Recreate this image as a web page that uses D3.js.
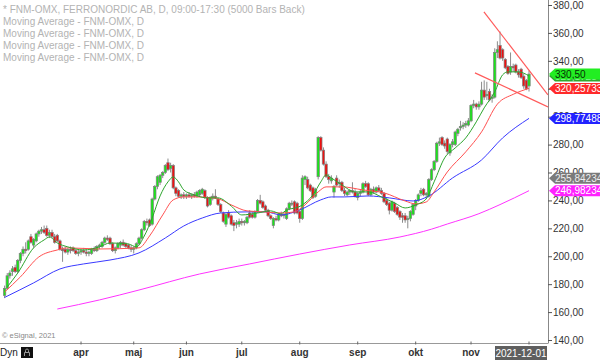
<!DOCTYPE html>
<html><head><meta charset="utf-8">
<script src="https://cdn.jsdelivr.net/npm/d3@7"></script>
<style>body{margin:0;background:#fff}svg{display:block;font-family:Arial,"Liberation Sans",sans-serif}</style>
</head><body><svg id="c" width="600" height="360"></svg>
<script>
// ---------- DATA ----------
const startDate = "2021-02-19";
const endDate = "2021-12-01";
const holidays = ["2021-04-02","2021-04-05","2021-05-13","2021-06-25"];

const open = [
172,177,186,189,192,189,197,202,205,205,214,208,211,216,218,219,220,215,217,214,215,211,205,205,203,205,206,204,202,
203,204,203,202,202,205,204,207,207,210,213,213,209,204,206,208,210,209,208,206,
205,206,209,213,219,225,226,223,241,250,253,258,260,267,263,265,249,247,243,244,
243,244,243,244,243,244,245,247,242,237,242,243,241,237,231,223,231,229,224,223,223,
225,224,224,231,230,228,232,240,239,236,233,229,222,227,226,230,229,227,234,238,239,238,
232,227,255,255,251,249,243,257,285,276,266,257,254,246,256,252,253,247,244,246,247,246,
242,245,246,252,252,244,248,246,249,247,245,240,238,233,238,235,232,229,229,227,227,230,
236,240,245,248,244,243,255,262,268,281,285,281,284,274,280,280,288,292,293,294,294,
297,308,309,307,309,319,315,318,313,314,346,351,348,341,336,332,336,337,332,334,329,326,322];
const high = [
179,188,190,193,194,198,203,207,210,212,216,213,217,219,221,222,222,219,219,216,216,212,207,207,206,207,207,205,205,
205,206,205,204,206,207,208,209,211,214,215,214,210,207,210,211,212,210,209,208,
207,210,214,220,226,227,227,242,251,258,259,261,266,270,267,266,250,248,245,246,
245,246,245,246,247,248,249,248,243,243,245,248,242,238,232,231,233,230,226,226,227,
227,226,229,233,232,233,241,244,240,237,234,230,228,229,231,232,231,235,239,240,240,239,
233,258,258,257,252,250,249,286,286,278,268,259,258,251,258,255,254,249,247,248,253,248,
246,248,253,254,253,249,250,250,251,249,246,242,239,240,239,236,233,231,231,229,233,238,
241,245,249,249,246,256,263,269,282,285,286,283,285,281,284,290,292,297,296,297,299,
309,312,310,311,325,326,325,320,316,349,354,361,349,342,337,346,338,338,334,335,331,327,333];
const low = [
170,176,184,186,188,188,195,200,202,204,209,206,210,214,216,216,214,213,213,209,210,204,196,202,201,202,203,201,200,
201,202,200,200,201,203,203,205,206,209,211,208,203,202,205,206,207,206,205,203,
202,205,208,212,218,222,221,222,240,248,251,256,259,261,260,248,243,242,241,241,
241,242,241,242,242,243,244,241,235,236,240,241,236,231,224,221,227,222,218,220,221,
222,222,223,227,227,227,231,237,234,232,228,226,220,225,225,228,227,226,233,236,230,230,
224,226,251,248,246,241,242,255,275,265,256,252,252,242,250,249,246,243,243,244,245,242,
240,243,245,249,243,243,245,245,246,244,238,236,230,232,231,229,226,224,224,220,225,229,
233,239,243,243,241,242,254,261,267,279,279,277,273,272,278,279,286,290,291,292,293,
296,306,305,305,308,312,312,311,310,313,342,341,340,334,330,330,332,331,328,327,320,319,318];
const close = [
177,186,188,191,189,197,202,205,204,211,210,212,216,218,219,217,215,217,214,210,211,205,204,203,205,204,204,202,203,
204,203,202,203,205,204,207,208,210,213,212,209,204,206,209,210,208,207,206,205,
206,209,213,219,225,224,222,241,250,257,258,260,265,262,265,249,245,243,244,243,
244,243,244,243,246,247,248,242,236,242,243,242,237,232,225,230,228,223,222,224,225,
224,225,228,228,228,232,240,238,235,233,229,227,227,226,230,229,230,234,238,238,231,231,
227,256,257,249,247,242,248,285,276,266,257,255,256,250,251,253,247,245,246,247,246,243,
245,246,252,250,244,248,246,249,247,245,239,237,233,239,232,230,228,228,226,227,232,237,
240,244,247,244,245,255,262,268,281,282,280,279,275,280,282,289,291,293,294,295,297,
308,309,307,309,319,314,316,312,314,346,348,342,342,335,331,336,335,332,330,328,322,320,330.5];

// moving averages: [bar number, value]
const maGreen = [[1,178.0],[5,188.0],[11,206.0],[15,211.7],[17,213.8],[20,209.5],[24,206.7],[30,204.5],[36,206.7],[40,209.5],[47,208.8],[50,206.7],[53,214.5],[56,227.4],[59,243.2],[62,253.3],[64,256.8],[66,253.3],[68,247.5],[72,244.0],[77,241.8],[81,241.8],[86,236.0],[90,229.6],[96,231.0],[101,232.5],[105,230.3],[106,231.8],[113,236.8],[117,243.9],[120,253.3],[122,258.3],[124,256.1],[128,251.1],[133,246.1],[138,246.1],[143,242.5],[148,238.2],[152,234.6],[156,236.8],[160,241.1],[163,253.3],[167,270.5],[171,277.6],[175,284.8],[179,296.3],[182,306.3],[186,317.8],[189,330.0],[191,332.1],[195,332.1],[199,329.17]];
const maRed = [[0,174.4],[6,185.2],[13,199.5],[20,204.5],[24,206.0],[36,205.2],[51,206.0],[55,214.5],[60,229.6],[64,240.4],[68,242.5],[73,242.5],[81,241.1],[86,236.8],[92,232.5],[98,231.8],[105,231.0],[110,231.8],[114,236.8],[119,246.1],[122,249.7],[128,249.7],[136,247.5],[144,245.4],[152,239.6],[156,237.5],[160,238.9],[163,246.1],[168,260.4],[175,274.8],[181,289.1],[187,309.0],[193,316.0],[199,320.26]];
const maBlue = [[0,170.5],[11,180.9],[21,190.9],[30,194.5],[40,197.3],[51,202.4],[61,213.1],[68,221.7],[75,227.4],[82,231.0],[92,231.8],[99,231.8],[105,229.6],[112,233.2],[120,240.4],[124,242.5],[129,242.5],[138,243.2],[146,241.8],[155,239.6],[161,243.2],[170,256.1],[181,269.0],[189,284.8],[199,298.77]];
const maMagenta = [[20,162.2],[36,168.7],[51,175.8],[74,187.3],[93,194.5],[112,201.6],[131,208.1],[150,213.8],[162,219.4],[168,223.1],[180,230.5],[188,237.0],[199,246.98]];

// hand-drawn trend lines: [bar number, price]
const trendLines = [[[181.9,375.1],[206.2,315.6]],[[178.5,331.4],[206.2,307.0]]];

const priceTicks = d3.range(140, 381, 20);
const monthNames = ["jan","feb","mar","apr","maj","jun","jul","aug","sep","okt","nov","dec"];
const legendLines = ["* FNM-OMX, FERRONORDIC AB, D, 09:00-17:30 (5000 Bars Back)","Moving Average - FNM-OMX, D","Moving Average - FNM-OMX, D","Moving Average - FNM-OMX, D","Moving Average - FNM-OMX, D"];
const tagValues = [329.17, 330.50, 320.25733, 298.774885, 255.842345, 246.982342];
const tagTexts = ["329,17284","330,50","320,25733","298,774885","255,842345","246,982342"];
const tagFills = ["#2fa82f","#22ee22","#ff2a2a","#2222ff","#7a7a7a","#ff22ff"];
const tagInk = ["#dfe","#063006","#fff","#fff","#eee","#fff"];

// ---------- CHART ----------
const dates = [];
for (let d = new Date(startDate+"T00:00:00Z"); d <= new Date(endDate+"T00:00:00Z"); d.setUTCDate(d.getUTCDate()+1)) {
  const s = d.toISOString().slice(0,10), w = d.getUTCDay();
  if (w===0 || w===6 || holidays.includes(s)) continue;
  dates.push(s);
}
const N = close.length;
const bars = d3.range(N).map(k => ({k, d: dates[k], o: open[k], h: high[k], l: low[k], c: close[k]}));

const W = 600, H = 360, plotR = 548, plotB = 343;
const x = d3.scaleLinear().domain([0, N-1]).range([4.6, 529]);
const y = d3.scaleLinear().domain([140, 380]).range([340, 5]);

const svg = d3.select("#c");
svg.append("defs").append("clipPath").attr("id","clip").append("rect").attr("x",0).attr("y",0).attr("width",plotR).attr("height",plotB);

// legend
svg.append("g").selectAll("text").data(legendLines).join("text")
  .attr("x", 3).attr("y", (d,i) => 12.5 + i*12).attr("font-size", 10).attr("fill", "#b3b3b3").text(d => d);

const plot = svg.append("g").attr("clip-path","url(#clip)");

// candles
plot.append("g").selectAll("line").data(bars).join("line")
  .attr("x1", d => x(d.k)).attr("x2", d => x(d.k))
  .attr("y1", d => y(d.h)).attr("y2", d => y(d.l))
  .attr("stroke", "#8c8c8c").attr("stroke-width", 1);
plot.append("g").selectAll("rect").data(bars).join("rect")
  .attr("x", d => x(d.k) - 1.2).attr("width", 2.4)
  .attr("y", d => y(Math.max(d.o, d.c)))
  .attr("height", d => Math.max(1, Math.abs(y(d.o) - y(d.c))))
  .attr("fill", d => d.c >= d.o ? "#19e619" : "#ee1111")
  .attr("stroke", "#7f7f7f").attr("stroke-width", 0.7);

// moving averages
const line = d3.line().x(d => x(d[0])).y(d => y(d[1])).curve(d3.curveMonotoneX);
[[maMagenta,"#ff33ff"],[maBlue,"#3a3aff"],[maRed,"#ff5050"],[maGreen,"#2ea52e"]].forEach(([data,col]) => {
  plot.append("path").datum(data).attr("d", line).attr("fill","none").attr("stroke",col).attr("stroke-width",1);
});

// trend lines
plot.append("g").selectAll("path").data(trendLines).join("path")
  .attr("d", d3.line().x(d => x(d[0])).y(d => y(d[1])))
  .attr("stroke", "#ff5a5a").attr("stroke-width", 1.2).attr("fill", "none");

// y axis
const yAxis = svg.append("g").attr("transform", `translate(${plotR},0)`)
  .call(d3.axisRight(y).tickValues(priceTicks).tickSize(4).tickFormat(d => d.toFixed(2).replace(".", ",")));
yAxis.select(".domain").attr("stroke", "#888").attr("d", `M0.5,0V${plotB}`);
yAxis.selectAll(".tick line").attr("stroke", "#555");
yAxis.selectAll(".tick text").attr("x", 5).attr("font-size", 10).attr("font-family", "Arial, Liberation Sans, sans-serif").attr("fill", "#333");

// price tags
const tags = svg.append("g").selectAll("g").data(tagValues.map((v,i)=>({v,i}))).join("g")
  .attr("transform", d => `translate(${plotR+1},${y(d.v)})`);
tags.append("path").attr("d", "M0,0L6,-5.5H60V5.5H6Z").attr("fill", d => tagFills[d.i]);
tags.append("text").attr("x", 6).attr("y", 3.8).attr("font-size", 10).attr("fill", d => tagInk[d.i]).text(d => tagTexts[d.i]);

// x axis area
svg.append("rect").attr("x",0).attr("y",plotB+0.5).attr("width",plotR+1).attr("height",H-plotB).attr("fill","#fff");
svg.append("line").attr("x1",0).attr("x2",plotR+0.5).attr("y1",plotB+0.5).attr("y2",plotB+0.5).attr("stroke","#999");

const monthStarts = bars.filter((b,k) => k > 0 && b.d.slice(5,7) !== bars[k-1].d.slice(5,7) && +b.d.slice(5,7) >= 4);
const firstOfMonth = monthStarts.filter(b => +b.d.slice(5,7) <= 11);
svg.append("g").selectAll("line").data(monthStarts).join("line")
  .attr("x1", d => x(d.k)).attr("x2", d => x(d.k)).attr("y1", plotB-1.5).attr("y2", plotB+1.5).attr("stroke","#666");
svg.append("g").selectAll("text").data(firstOfMonth).join("text")
  .attr("x", d => x(d.k)).attr("y", 356).attr("text-anchor","middle").attr("font-size",10).attr("font-weight","bold").attr("fill","#333")
  .text(d => monthNames[+d.d.slice(5,7)-1]);

// last date box
const last = bars[N-1];
svg.append("rect").attr("x", x(last.k)-34).attr("y", 346).attr("width", 52).attr("height", 14).attr("fill", "#5f5f5f");
svg.append("text").attr("x", x(last.k)-8).attr("y", 357).attr("text-anchor","middle").attr("font-size",10).attr("fill","#fff").text(last.d);

// bottom-left
svg.append("text").attr("x",0).attr("y",356).attr("font-size",10).attr("fill","#222").text("Dyn");
svg.append("rect").attr("x",21).attr("y",347).attr("width",12).attr("height",11).attr("fill","#111");
svg.append("path").attr("d","M24.5,356V352.5H29.5V356M25.5,352.5V350.5A1.5,1.5 0 0 1 28.5,350.5V352.5").attr("fill","none").attr("stroke","#999").attr("stroke-width",1);
svg.append("text").attr("x",2).attr("y",337.5).attr("font-size",7.5).attr("fill","#888").text("© eSignal, 2021");
</script></body></html>
